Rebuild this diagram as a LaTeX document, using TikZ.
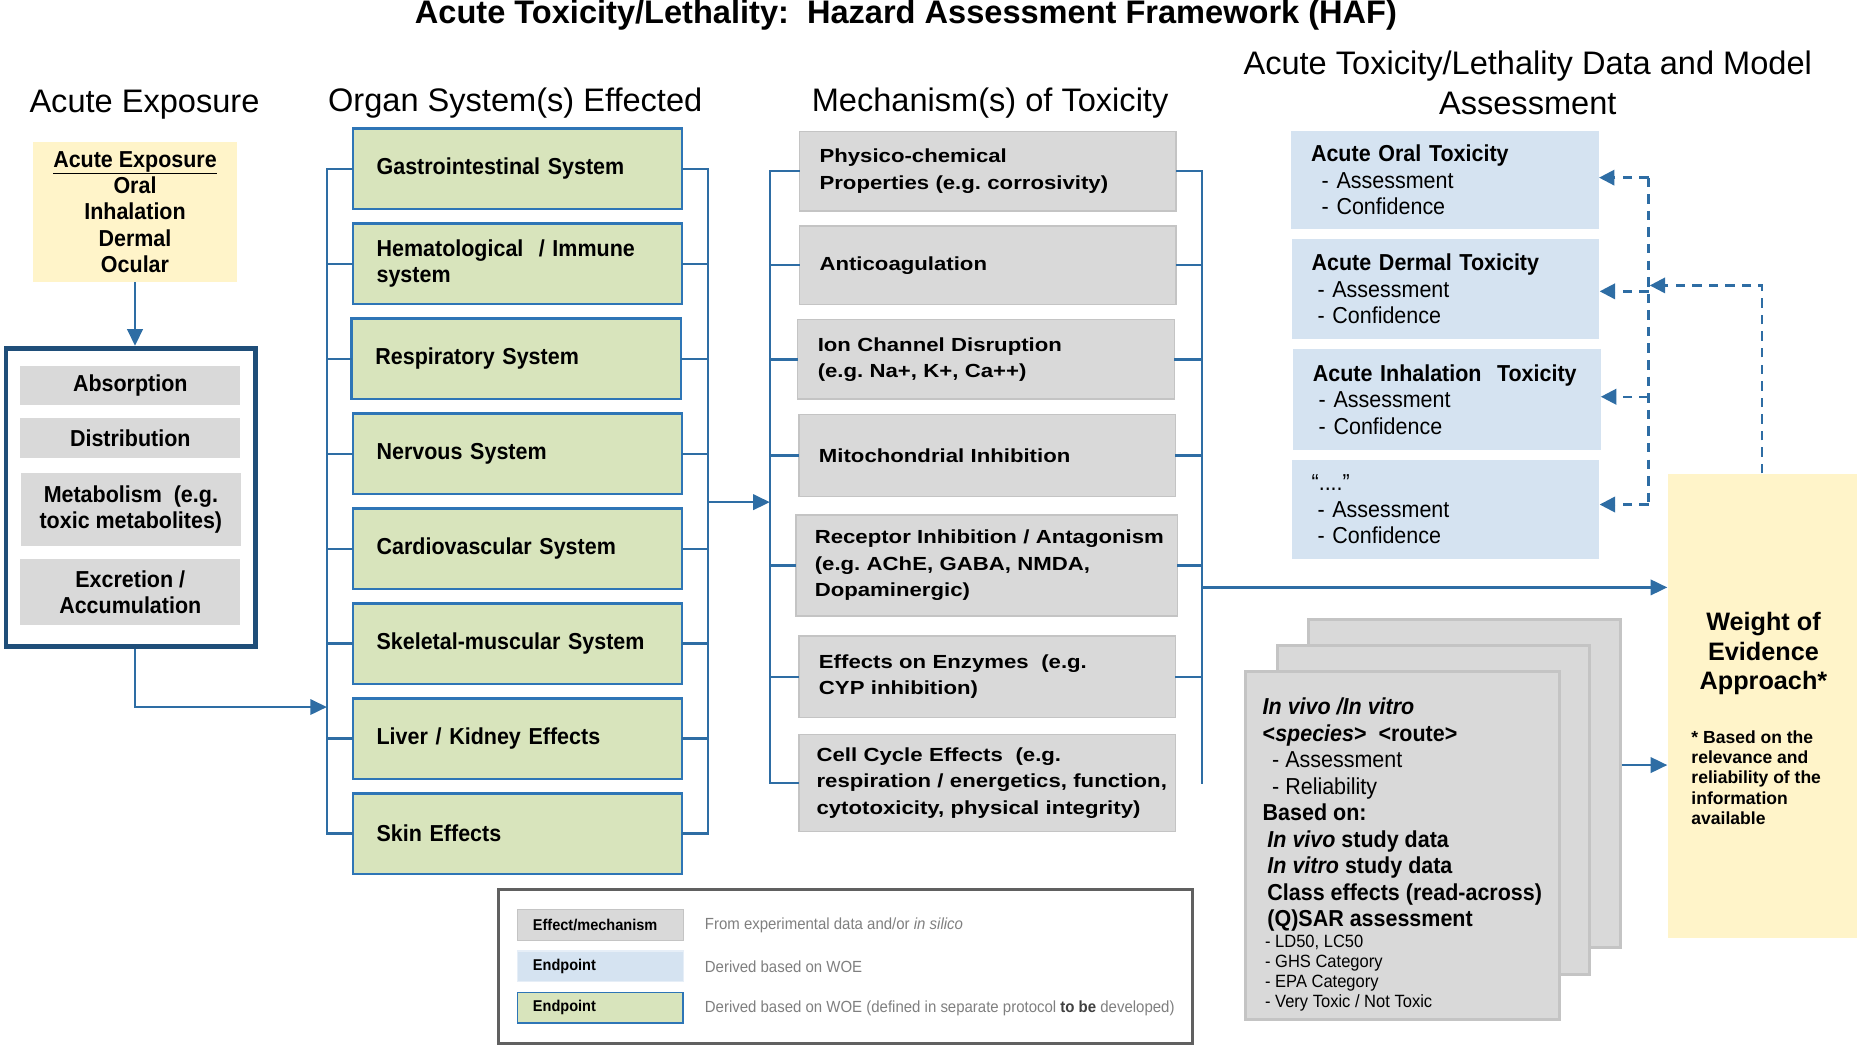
\documentclass[tikz,border=0pt]{standalone}
\usepackage{fontspec}
\setmainfont{Liberation Sans}
\newfontfamily\condf[FakeStretch=0.93]{Liberation Sans}
\newfontfamily\widef[FakeStretch=1.17]{Liberation Sans}
\usetikzlibrary{arrows.meta}
\hyphenpenalty=10000
\exhyphenpenalty=10000
\definecolor{lnblue}{HTML}{2E6DA4}
\definecolor{navyb}{HTML}{1F4E79}
\definecolor{grnf}{HTML}{D8E4BC}
\definecolor{grnd}{HTML}{2E75B6}
\definecolor{lbluef}{HTML}{D5E3F1}
\definecolor{yelf}{HTML}{FFF4C9}
\definecolor{gryf}{HTML}{D9D9D9}
\definecolor{gryd}{HTML}{C4C4C4}
\definecolor{legt}{HTML}{7F7F7F}
\definecolor{legd}{HTML}{606060}
\tikzset{
  hdr/.style={font=\fontsize{27.5}{33}\selectfont, inner sep=0pt, align=center},
  organ/.style={draw=grnd, line width=2.2pt, fill=grnf, minimum width=278pt, minimum height=68pt, inner xsep=20pt, text width=238pt, align=left, font=\condf\bfseries\fontsize{19.5}{22}\selectfont},
  mech/.style={draw=gryd, line width=1.2pt, fill=gryf, minimum width=318pt, inner xsep=17pt, text width=284pt, align=left, font=\widef\bfseries\fontsize{16}{22.3}\selectfont},
  adme/.style={fill=gryf, minimum width=186pt, align=center, inner sep=0pt, font=\condf\bfseries\fontsize{19.5}{22}\selectfont},
  endp/.style={fill=lbluef, minimum width=260pt, inner xsep=17pt, text width=226pt, align=left, font=\condf\fontsize{19.5}{22.5}\selectfont},
  card/.style={fill=gryf, draw=gryd, line width=2.5pt},
  conn/.style={draw=lnblue, line width=2pt, line cap=rect},
  arr/.style={draw=lnblue, line width=2pt, -{Triangle[length=14pt, width=13pt]}},
  darr/.style={draw=lnblue, line width=2pt, dash pattern=on 8pt off 6pt, -{Triangle[length=13pt, width=13pt]}},
  dline/.style={draw=lnblue, line width=2pt, dash pattern=on 8pt off 6pt},
  swatch/.style={minimum width=140pt, minimum height=26pt, inner xsep=13pt, text width=114pt, align=left, font=\condf\bfseries\fontsize{13.2}{15}\selectfont},
  legtxt/.style={anchor=west, inner sep=0pt, text=legt, font=\condf\fontsize{13.6}{15}\selectfont},
}
\begin{document}
\begin{tikzpicture}[x=1pt,y=-1pt]
\useasboundingbox (0,0) rectangle (1568,885);
% title and headers
\node[font=\bfseries\fontsize{27.5}{33}\selectfont, inner sep=0pt] (title) at (765,13) {Acute Toxicity/Lethality:\ \ Hazard Assessment Framework (HAF)};
\node[hdr] (hExp) at (122,88) {Acute Exposure};
\node[hdr] (hOrg) at (435,87) {Organ System(s) Effected};
\node[hdr] (hMech) at (836,87) {Mechanism(s) of Toxicity};
\node[hdr] (hData) at (1290,70) {Acute Toxicity/Lethality Data and Model\\Assessment};
% exposure
\node[fill=yelf, minimum width=172pt, minimum height=118pt, align=center, inner sep=0pt, font=\condf\bfseries\fontsize{19.5}{22.3}\selectfont] (expo) at (114,179) {\underline{Acute Exposure}\\Oral\\Inhalation\\Dermal\\Ocular};
\node[draw=navyb, line width=4pt, minimum width=211pt, minimum height=252pt] (admeBox) at (110.5,420) {};
\node[adme, minimum height=33pt] (abs) at (110,325.5) {Absorption};
\node[adme, minimum height=34pt] (dist) at (110,370) {Distribution};
\node[adme, minimum height=62pt] (metab) at (110.5,430) {Metabolism\ \ (e.g.\\toxic metabolites)};
\node[adme, minimum height=56pt] (excr) at (110,500) {Excretion /\\Accumulation};
\draw[arr] (expo.south) -- (expo.south |- admeBox.north);
\coordinate (orgIn) at (276,597);
\draw[arr] (admeBox.south -| expo.south) |- (orgIn);
% organs
\node[organ] (o1) at (437,142.5) {Gastrointestinal~System};
\node[organ] (o2) at (437,222.7) {Hematological~~/~Immune\\system};
\node[organ] (o3) at (436,302.9) {Respiratory~System};
\node[organ] (o4) at (437,383.1) {Nervous~System};
\node[organ] (o5) at (437,463.3) {Cardiovascular~System};
\node[organ] (o6) at (437,543.5) {Skeletal-muscular~System};
\node[organ] (o7) at (437,623.7) {Liver~/~Kidney~Effects};
\node[organ] (o8) at (437,703.9) {Skin~Effects};
\coordinate (bl) at (276,0);
\coordinate (br) at (598,0);
\draw[conn] (o1.west -| bl) -- (o8.west -| bl);
\draw[conn] (o1.east -| br) -- (o8.east -| br);
\foreach \i in {1,...,8} {
  \draw[conn] (o\i.west -| bl) -- (o\i.west);
  \draw[conn] (o\i.east) -- (o\i.east -| br);
}
% mechanisms
\node[mech, minimum height=67pt] (m1) at (834,144.5) {Physico-chemical\\Properties~(e.g.~corrosivity)};
\node[mech, minimum height=66pt] (m2) at (834,224) {Anticoagulation};
\node[mech, minimum height=67pt] (m3) at (832.5,303.5) {Ion~Channel~Disruption\\(e.g.~Na+,~K+,~Ca++)};
\node[mech, minimum height=69pt] (m4) at (833.5,384.5) {Mitochondrial~Inhibition};
\node[mech, minimum height=85pt, minimum width=322pt, text width=290pt, inner xsep=16pt] (m5) at (833,477.5) {Receptor~Inhibition~/~Antagonism\\(e.g.~AChE,~GABA,~NMDA,\\Dopaminergic)};
\node[mech, minimum height=69pt] (m6) at (833.5,571.5) {Effects~on~Enzymes~~(e.g.\\CYP~inhibition)};
\node[mech, minimum height=82pt, inner xsep=15pt, text width=288pt] (m7) at (833.5,661) {Cell~Cycle~Effects~~(e.g.\\respiration~/~energetics,~function,\\cytotoxicity,~physical~integrity)};
\coordinate (ml) at (650,0);
\coordinate (mr) at (1015,0);
\draw[conn] (m1.west -| ml) -- (m7.west -| ml);
\draw[conn] (m1.east -| mr) -- (m7.east -| mr);
\foreach \i in {1,...,7} \draw[conn] (m\i.west -| ml) -- (m\i.west);
\foreach \i in {1,...,6} \draw[conn] (m\i.east) -- (m\i.east -| mr);
\coordinate (oOut) at (598,424);
\draw[arr] (oOut) -- (oOut -| ml);
% WOE
\node[fill=yelf, minimum width=160pt, minimum height=392pt] (woe) at (1488,596) {};
\node[font=\bfseries\fontsize{21.3}{25}\selectfont, align=center, inner sep=0pt] (woeT) at (1489,552) {Weight of\\Evidence\\Approach*};
\node[font=\bfseries\fontsize{14.8}{17}\selectfont, align=left, anchor=north west, inner sep=0pt] (woeN) at (1428,617) {* Based on the\\relevance and\\reliability of the\\information\\available};
\coordinate (mOut) at (1015,496);
\draw[arr] (mOut) -- (mOut -| woe.west);
% endpoints
\node[endp, minimum height=82pt] (e1) at (1220,152) {\textbf{Acute~Oral~Toxicity}\\\hspace*{9pt}-~Assessment\\\hspace*{9pt}-~Confidence};
\node[endp, minimum height=84pt] (e2) at (1220.5,244) {\textbf{Acute~Dermal~Toxicity}\\\hspace*{5pt}-~Assessment\\\hspace*{5pt}-~Confidence};
\node[endp, minimum height=85pt] (e3) at (1221.5,337.5) {\textbf{Acute~Inhalation~~Toxicity}\\\hspace*{5pt}-~Assessment\\\hspace*{5pt}-~Confidence};
\node[endp, minimum height=84pt] (e4) at (1220.5,430) {“....”\\\hspace*{5pt}-~Assessment\\\hspace*{5pt}-~Confidence};
\coordinate (dv1) at (1392,150);
\coordinate (dv2) at (1392,246);
\coordinate (dv3) at (1392,335);
\coordinate (dv4) at (1392,426);
\coordinate (dvm) at (1393,241);
\draw[dline] (dv1) -- (dv4);
\draw[darr] (dv1) -- (e1.east |- dv1);
\draw[darr] (dv2) -- (e2.east |- dv2);
\draw[darr] (dv3) -- (e3.east |- dv3);
\draw[darr] (dv4) -- (e4.east |- dv4);
\draw[darr] (woe.north) |- (dvm);
% cards
\node[card, minimum width=263pt, minimum height=277pt] (c3) at (1236.5,661.5) {};
\node[card, minimum width=263pt, minimum height=278pt] (c2) at (1210.5,684) {};
\node[card, minimum width=265pt, minimum height=294pt] (c1) at (1184.5,714) {};
\node[anchor=north west, inner sep=0pt, align=left, font=\condf\bfseries\fontsize{19.5}{22.4}\selectfont] (ctA) at (1066,589) {\textit{In~vivo~/In~vitro}\\<\textit{species}>~~<route>\\\hspace*{8pt}{\mdseries -~Assessment}\\\hspace*{8pt}{\mdseries -~Reliability}\\Based~on:\\\hspace*{4pt}\textit{In~vivo}~study~data\\\hspace*{4pt}\textit{In~vitro}~study~data\\\hspace*{4pt}Class~effects~(read-across)\\\hspace*{4pt}(Q)SAR~assessment};
\node[anchor=north west, inner sep=0pt, align=left, font=\condf\fontsize{15}{17}\selectfont] (ctB) at (1068,789) {-~LD50,~LC50\\-~GHS~Category\\-~EPA~Category\\-~Very~Toxic~/~Not~Toxic};
\draw[arr] ([yshift=15.5pt]c3.east) coordinate (cOut) -- (cOut -| woe.west);
% legend
\node[draw=legd, line width=2.5pt, minimum width=586pt, minimum height=130pt] (leg) at (714,816) {};
\node[swatch, fill=gryf, draw=gryd, line width=0.8pt] (s1) at (507,781) {Effect/mechanism};
\node[swatch, fill=lbluef, draw=lbluef!60!white, line width=1pt] (s2) at (507,816) {Endpoint};
\node[swatch, fill=grnf, draw=grnd, line width=1.5pt] (s3) at (507,851) {Endpoint};
\node[legtxt] (l1) at (595,781) {From experimental data and/or \textit{in silico}};
\node[legtxt] (l2) at (595,816) {Derived based on WOE};
\node[legtxt] (l3) at (595,851) {Derived based on WOE (defined in separate protocol {\bfseries\color{black!75}to be} developed)};
\end{tikzpicture}
\end{document}
